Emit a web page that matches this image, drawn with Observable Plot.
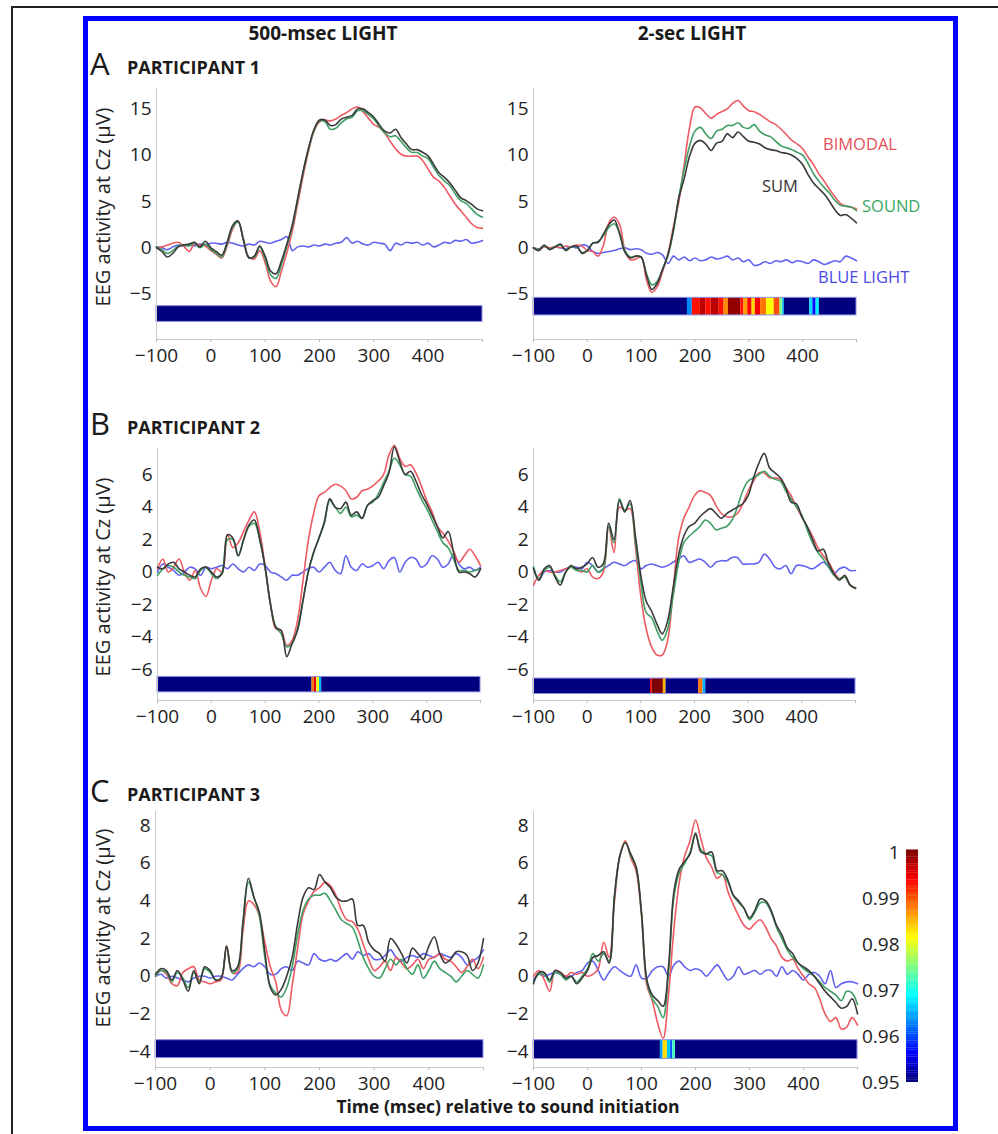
<!DOCTYPE html>
<html><head><meta charset="utf-8">
<script src="https://cdn.jsdelivr.net/npm/d3@7"></script>
<script src="https://cdn.jsdelivr.net/npm/@observablehq/plot@0.6"></script>
<style>
body{margin:0;background:#fff;font-family:"Open Sans",sans-serif;}
#root{position:relative;width:998px;height:1134px;overflow:hidden;background:#fff}
#root svg{position:absolute}
</style></head><body><div id="root"></div>
<script>
// ---------- data ----------
const time = [-100,-90,-80,-70,-60,-50,-40,-30,-20,-10,0,10,20,30,40,50,60,70,80,90,100,110,120,130,140,150,160,170,180,190,200,210,220,230,240,250,260,270,280,290,300,310,320,330,340,350,360,370,380,390,400,410,420,430,440,450,460,470,480,490,500];

const columnTitles = ["500-msec LIGHT", "2-sec LIGHT"];
const rowLetters = ["A", "B", "C"];
const rowTitles = ["PARTICIPANT 1", "PARTICIPANT 2", "PARTICIPANT 3"];
const seriesNames = ["BLUE LIGHT", "BIMODAL", "SOUND", "SUM"];
const seriesColors = ["#6262f0", "#ee5a62", "#3f9f64", "#3a3a3a"];
const xTicks = [-100, 0, 100, 200, 300, 400, 500];
const yTicksA = [-5, 0, 5, 10, 15];
const yTicksB = [-6, -4, -2, 0, 2, 4, 6];
const yTicksC = [-4, -2, 0, 2, 4, 6, 8];
const pTicks = [0.95, 0.96, 0.97, 0.98, 0.99, 1];
const pDomain = [0.95, 0.95625, 0.96875, 0.98125, 0.99375, 1];
const pRange = ["#00007f", "#0000ff", "#00ffff", "#ffff00", "#ff0000", "#7f0000"];

// Participant 1, 500-msec light
const a1_light = [0.1,0.0,-0.2,0.1,0.3,0.2,0.3,0.2,0.4,0.3, 0.5,0.5,0.4,0.6,0.5,0.3,0.2,0.4,0.3,0.7, 0.6,0.5,0.7,0.9,1.2,-0.3,0.1,0.2,0.1,0.3, 0.2,0.4,0.3,0.5,0.6,1.1,0.5,0.7,0.4,0.3, 0.6,0.5,0.4,-0.3,0.5,0.3,0.6,0.5,0.6,0.3, 0.5,0.1,0.3,0.6,0.5,0.8,0.7,0.9,0.5,0.6, 0.8];
const a1_bimodal = [0.0,0.1,0.3,0.5,0.6,0.2,-0.4,0.4,0.3,0.2, -0.3,-0.7,-1.1,0.2,2.0,2.9,1.0,-1.0,-1.2,-0.3, -1.6,-3.6,-4.2,-2.5,-0.5,1.8,4.8,7.8,10.5,12.6, 13.6,13.8,13.7,13.9,14.3,14.6,15.0,15.2,14.7,14.0, 13.3,13.0,12.4,11.5,10.7,10.1,9.9,9.9,9.9,9.4, 8.5,7.6,7.2,6.5,5.6,4.7,4.0,3.3,2.6,2.2, 2.1];
const a1_sound = [0.1,-0.2,-0.6,-0.3,0.2,0.3,0.2,0.5,0.0,0.4, -0.2,-0.6,-1.0,0.4,2.2,2.8,0.9,-1.0,-1.0,0.1, -1.2,-2.9,-3.3,-1.8,0.2,2.3,5.2,8.2,10.7,12.7, 13.7,13.6,12.8,12.9,13.5,13.9,14.1,14.8,14.8,14.4, 13.9,13.1,12.4,12.0,12.1,11.5,10.8,10.3,10.3,9.9, 9.6,8.7,7.8,7.2,6.7,5.8,5.1,4.8,4.2,3.6, 3.3];
const a1_sum = [0.0,-0.4,-1.0,-0.6,0.1,0.3,0.4,0.6,0.1,0.7, 0.0,-0.4,-0.8,0.6,2.4,2.9,0.8,-1.1,-0.9,0.2, -0.9,-2.5,-2.8,-1.4,0.4,2.5,5.4,8.3,10.8,12.8, 13.8,13.8,13.2,13.3,13.9,14.1,14.3,15.0,15.0,14.6, 14.1,13.3,12.6,12.4,12.8,11.9,11.2,10.6,10.6,10.3, 9.9,9.0,8.1,7.6,7.0,6.2,5.4,5.1,4.7,4.2, 4.0];
const a1_sig = [[-100, 500, 0.95]];

// Participant 1, 2-sec light
const a2_light = [0.0,-0.1,0.2,-0.1,0.1,0.0,-0.1,0.1,0.0,0.3, 0.2,-0.4,-0.6,-0.5,-0.4,-0.3,-0.1,0.0,-0.2,-0.1, -0.2,-0.6,-0.7,-0.5,-0.8,-1.7,-0.9,-1.3,-1.0,-1.4, -1.1,-1.4,-1.3,-1.0,-1.2,-1.1,-0.9,-1.3,-1.1,-1.5, -1.3,-1.9,-1.8,-1.5,-1.7,-1.4,-1.5,-1.3,-1.6,-1.4, -1.5,-1.7,-1.3,-1.5,-1.8,-1.6,-1.4,-1.5,-0.9,-1.1, -1.4];
const a2_bimodal = [0.0,-0.2,0.1,0.0,0.1,0.0,0.2,0.1,0.3,0.2, -0.3,-0.4,-0.9,0.3,2.7,3.3,2.5,-0.3,-1.3,-1.2, -1.0,-3.5,-4.8,-4.2,-2.5,-0.6,2.3,5.0,9.0,13.0, 15.2,15.1,14.5,14.0,14.4,14.7,15.0,15.6,15.9,15.3, 14.8,14.7,14.4,14.0,13.6,13.3,12.8,12.2,11.6,11.2, 10.7,9.8,9.0,8.0,7.2,6.3,5.5,4.8,4.5,4.4, 4.2];
const a2_sound = [0.0,-0.2,0.2,-0.1,0.1,0.3,-0.2,0.1,0.1,-0.5, -0.3,0.5,0.7,1.3,2.2,2.6,1.6,-0.3,-1.0,-0.9, -1.0,-2.8,-4.0,-3.6,-2.3,-0.8,1.8,5.5,8.5,11.0, 12.6,13.0,12.3,11.8,12.6,12.8,13.2,13.2,13.5,13.0, 12.9,13.3,12.6,12.2,12.0,11.5,11.0,10.8,10.6,10.3, 10.0,9.1,8.0,7.2,6.5,5.9,5.1,4.6,4.5,4.4, 4.0];
const a2_sum = [0.0,-0.3,0.3,-0.2,0.1,0.4,-0.3,0.1,0.2,-0.6, -0.3,0.5,0.6,1.5,2.5,3.0,1.5,-0.5,-1.1,-0.9, -1.0,-3.0,-4.5,-3.8,-2.3,-0.7,2.0,5.4,7.5,9.9, 11.3,11.6,11.2,10.5,11.3,11.5,12.3,11.9,12.5,12.0, 11.5,11.4,11.2,10.8,10.6,10.5,10.3,10.2,10.0,9.6, 9.0,7.9,7.0,6.4,5.8,5.0,4.1,3.5,3.6,3.2, 2.7];
const a2_sig = [[-100,186,0.95],[186,195,0.963],[195,210,0.993],[210,220,0.997],[220,230,0.993],[230,245,0.997],[245,254,0.993],[254,262,0.987],[262,285,0.999],[285,291,0.993],[291,298,0.986],[298,306,0.994],[306,312,0.983],[312,322,0.994],[322,333,0.988],[333,347,0.981],[347,358,0.99],[358,363,0.975],[363,366,0.965],[366,413,0.95],[413,419,0.967],[419,425,0.957],[425,431,0.968],[431,500,0.95]];

// Participant 2, 500-msec light
const b1_light = [0.0,0.5,0.3,0.1,-0.2,0.0,0.3,0.2,-0.2,0.3, 0.2,0.3,0.4,0.2,0.5,0.2,0.0,0.3,0.1,0.5, 0.4,0.0,-0.1,-0.3,-0.5,-0.2,-0.2,0.0,0.2,0.3, 0.0,0.3,0.6,0.1,-0.1,1.0,0.3,0.1,0.5,0.3, 0.4,0.6,0.2,0.7,0.9,0.0,0.6,0.9,0.8,0.3, 0.5,1.0,0.8,0.3,0.5,1.1,0.5,0.2,0.3,0.1, 0.3];
const b1_bimodal = [0.2,0.8,0.0,0.3,0.8,0.0,-0.5,0.1,-1.0,-1.5, -0.5,0.2,0.0,2.3,1.5,1.8,2.5,3.2,3.7,2.5, 0.3,-2.0,-3.5,-3.6,-4.5,-4.2,-3.0,-0.6,1.9,3.6, 4.7,4.9,5.2,5.4,5.3,5.0,4.5,4.6,5.0,5.1, 5.3,5.6,6.0,7.2,7.8,7.0,6.5,6.6,6.1,5.3, 4.4,3.7,2.8,2.4,1.9,1.3,0.6,1.0,1.4,1.0, 0.4];
const b1_sound = [-0.2,0.2,0.4,0.3,0.0,-0.2,-0.3,-0.4,0.1,0.3, -0.1,-0.4,0.0,2.0,2.0,1.0,2.0,2.8,3.0,2.0, 0.2,-2.0,-3.4,-3.8,-4.6,-4.4,-3.5,-1.8,0.0,1.2, 2.1,3.0,4.4,4.0,3.6,4.0,3.4,3.5,3.3,4.1, 4.3,4.8,5.5,6.2,7.0,6.6,6.0,5.9,5.2,4.5, 3.9,3.2,2.5,1.8,1.5,0.8,0.1,0.1,0.0,0.1, 0.2];
const b1_sum = [0.3,0.2,0.5,0.6,0.2,0.0,-0.2,-0.3,0.2,0.3, 0.0,-0.3,-0.1,2.3,2.1,1.0,2.0,2.9,3.2,2.0, 0.3,-2.0,-3.4,-3.6,-5.2,-4.4,-3.6,-1.8,0.0,1.2, 2.1,3.1,4.5,4.0,3.9,4.3,3.5,3.7,3.3,4.1, 4.4,4.6,5.3,6.1,7.7,6.8,6.0,6.2,5.6,4.8, 4.2,3.5,2.8,2.1,2.5,1.2,0.0,0.0,-0.1,-0.3, 0.2];
const b1_sig = [[-100,187,0.95],[187,191,0.988],[191,196,0.995],[196,201,0.98],[201,205,0.965],[205,500,0.95]];

// Participant 2, 2-sec light
const b2_light = [0.3,-0.5,0.0,0.1,0.0,0.0,0.2,0.3,0.3,0.2, 0.6,0.4,0.0,0.2,0.4,0.6,0.5,0.4,0.6,0.7, 0.2,0.4,0.5,0.4,0.3,0.4,0.6,0.8,1.0,0.6, 0.7,0.8,0.6,0.3,0.6,0.7,0.7,0.9,0.9,0.5, 0.5,0.5,0.6,1.1,0.8,0.3,0.2,0.4,-0.1,0.4, 0.4,0.3,0.2,0.4,0.6,0.3,-0.1,0.2,0.3,0.1, 0.1];
const b2_bimodal = [-0.8,-0.2,0.1,0.0,0.0,0.1,0.2,0.3,0.2,0.0, 0.2,-0.3,-0.4,0.0,2.8,1.2,4.0,3.8,3.9,1.5, -1.5,-3.5,-4.6,-5.1,-5.1,-4.2,-1.2,2.0,3.3,4.0, 4.7,5.0,4.9,4.7,4.1,3.6,3.4,3.4,3.6,4.2, 5.0,5.6,6.1,6.1,5.8,5.8,5.7,5.2,4.7,4.0, 3.4,2.8,2.2,1.5,1.0,0.6,0.0,-0.4,-0.3,-0.8, -1.0];
const b2_sound = [0.3,-0.4,0.1,0.3,-0.2,-0.6,0.0,0.3,0.1,0.1, 0.0,0.4,0.0,0.2,2.8,1.8,4.5,3.8,4.2,1.8, -0.6,-2.5,-2.8,-3.6,-4.2,-3.5,-1.5,0.5,1.8,2.2, 2.5,2.8,3.2,3.0,2.6,2.7,2.8,3.2,4.0,5.0, 5.6,5.8,6.0,6.2,5.9,5.7,5.6,5.0,4.5,4.0, 3.5,2.6,1.8,1.2,0.8,0.3,-0.2,-0.4,-0.3,-0.8, -1.0];
const b2_sum = [0.2,-0.5,0.2,0.4,-0.3,-0.8,0.0,0.4,0.2,0.3, 0.5,0.9,0.3,0.5,3.0,2.0,4.4,3.7,4.4,2.2, -0.2,-1.8,-2.4,-3.2,-3.8,-3.0,-1.0,1.0,2.2,2.8, 3.0,3.4,3.7,3.9,3.6,3.3,3.6,3.8,4.0,4.2, 4.7,5.8,6.7,7.3,6.4,6.1,5.8,5.2,4.3,4.2, 3.4,2.8,2.0,1.3,1.4,0.5,-0.1,-0.5,-0.2,-0.8, -1.0];
const b2_sig = [[-100,118,0.95],[118,121,0.994],[121,142,1.0],[142,147,0.985],[147,208,0.95],[208,216,0.988],[216,221,0.965],[221,500,0.95]];

// Participant 3, 500-msec light
const c1_light = [0.0,0.1,-0.1,0.0,-0.1,-0.2,-0.3,-0.1,0.0,0.0, -0.1,0.0,0.0,-0.1,-0.2,0.1,0.4,0.6,0.5,0.7, 0.5,0.1,0.1,0.4,0.5,0.3,0.8,0.7,0.6,1.2, 0.9,0.8,0.9,0.8,1.0,1.2,0.9,1.3,1.1,1.2, 0.9,0.9,1.1,1.4,1.0,0.8,1.0,1.1,1.0,1.2, 1.1,1.0,1.2,1.1,1.0,1.2,1.0,0.6,0.8,1.0, 1.4];
const c1_bimodal = [0.0,0.3,0.1,-0.4,-0.5,0.2,0.4,0.5,-0.2,-0.3, -0.4,-0.3,-0.2,1.6,0.2,0.2,2.4,4.0,3.8,3.2, 1.8,0.5,-0.3,-1.8,-2.1,-0.5,1.5,3.3,4.0,4.5, 4.7,5.0,4.8,4.3,3.5,3.0,2.9,2.5,1.7,0.9, 0.3,0.5,0.8,0.3,1.0,0.7,0.4,0.6,0.9,0.4, 0.9,1.0,1.2,0.9,0.8,0.5,0.2,0.5,0.9,0.4, 1.0];
const c1_sound = [0.0,0.3,0.2,-0.3,0.2,-0.1,-0.6,0.2,-0.3,0.4, 0.2,-0.2,-0.1,1.5,0.2,0.4,2.8,5.0,4.2,3.2, 1.0,-0.5,-0.9,-1.1,-0.6,0.5,2.2,3.5,4.1,4.3, 4.3,4.4,4.0,3.5,3.0,2.8,2.6,1.9,1.0,0.4, 0.0,-0.1,0.4,0.9,0.6,0.9,0.4,0.1,0.6,-0.1, 0.3,0.8,0.4,0.2,0.0,-0.3,0.0,0.3,0.1,-0.1, 0.6];
const c1_sum = [0.1,0.4,0.3,-0.2,0.3,-0.2,-0.8,0.3,-0.4,0.5, 0.3,-0.2,-0.1,1.6,0.3,0.5,2.9,5.2,4.2,3.4, 1.3,-0.6,-1.0,-0.7,0.0,1.0,2.8,4.2,4.7,4.6, 5.4,5.0,4.7,4.2,4.0,4.0,4.1,2.7,2.7,1.8, 1.4,1.2,0.8,2.0,1.7,1.2,0.7,1.5,1.2,0.9, 1.6,2.1,1.2,0.7,0.9,1.3,1.3,1.1,0.3,0.7, 2.0];
const c1_sig = [[-100, 500, 0.95]];

// Participant 3, 2-sec light
const c2_light = [-0.2,0.1,0.0,0.1,0.2,0.1,0.0,0.0,0.2,0.3, 0.7,0.8,0.3,-0.2,0.2,0.5,0.3,0.1,0.0,0.6, -0.1,-0.1,0.3,0.5,0.5,0.0,0.6,0.8,0.5,0.3, 0.4,0.3,0.0,0.3,0.6,0.2,-0.2,0.0,0.5,0.1, 0.2,0.3,0.1,0.3,0.3,0.0,0.5,0.1,0.3,0.1, -0.2,0.1,0.2,0.0,-0.4,0.3,-0.6,-0.4,-0.3,-0.3, -0.4];
const c2_bimodal = [0.0,0.3,-0.2,-0.8,0.3,0.2,0.0,0.2,0.1,0.2, 0.0,0.1,0.4,1.8,1.0,4.0,6.4,7.2,6.3,5.6, 3.2,-0.5,-1.3,-2.5,-3.3,-1.0,2.5,5.0,6.4,7.2, 8.3,7.3,6.3,5.8,5.2,5.4,4.5,3.8,3.2,2.7, 2.5,2.8,3.0,2.6,2.0,1.6,1.0,0.8,0.9,0.4, 0.0,-0.4,-0.6,-1.2,-2.0,-2.4,-2.2,-2.8,-2.7,-2.2, -2.6];
const c2_sound = [-0.3,0.1,0.1,-0.3,0.2,0.1,-0.2,0.0,-0.3,0.0, 0.4,1.2,0.8,1.2,0.8,4.2,6.4,7.1,6.4,5.8, 3.3,-0.3,-1.2,-1.6,-2.2,0.2,4.2,5.5,6.0,6.6, 7.5,6.7,6.5,6.4,5.5,5.4,5.0,4.3,3.9,3.6, 3.0,3.4,3.9,3.9,3.4,2.6,2.0,1.4,1.0,0.7, 0.4,0.2,0.0,-0.3,-0.6,-0.8,-1.0,-1.3,-0.8,-0.9, -1.5];
const c2_sum = [-0.4,0.2,0.2,-0.2,0.3,0.2,-0.1,0.0,-0.4,-0.1, 0.3,1.0,1.1,1.3,0.7,4.3,6.4,7.1,6.5,5.8, 3.4,-0.2,-1.0,-1.3,-1.6,0.5,4.5,5.7,6.1,6.5, 7.6,6.6,6.5,6.6,5.6,5.6,5.1,4.3,4.0,3.6, 3.1,3.5,4.1,4.0,3.5,2.7,2.2,1.5,1.2,0.7, 0.5,0.3,0.0,-0.4,-0.8,-1.1,-1.4,-1.7,-1.6,-1.2, -2.0];
const c2_sig = [[-100,135,0.95],[135,140,0.964],[140,148,0.983],[148,154,0.966],[154,158,0.96],[158,163,0.972],[163,500,0.95]];

// ---------- layout ----------
const FONT = '"Open Sans", "DejaVu Sans", sans-serif';
const root = d3.select("#root");
const minus = d => d < 0 ? "\u2212" + Math.abs(d) : String(d);

// frames + static text
const ov = root.append("svg").attr("width", 998).attr("height", 1134).style("left", "0px").style("top", "0px")
  .style("font-family", FONT);
ov.append("rect").attr("x", 12).attr("y", 7).attr("width", 1200).attr("height", 1300)
  .attr("fill", "none").attr("stroke", "#222").attr("stroke-width", 2);
ov.append("rect").attr("x", 85.5).attr("y", 18.5).attr("width", 870).attr("height", 1110)
  .attr("fill", "none").attr("stroke", "#0000ff").attr("stroke-width", 5);

function txt(s, x, y, o = {}) {
  const t = ov.append("text").attr("x", x).attr("y", y).text(s)
    .attr("font-size", o.size || 19).attr("font-weight", o.weight || 400)
    .attr("fill", o.fill || "#222").attr("text-anchor", o.anchor || "start");
  if (o.rotate) t.attr("transform", `rotate(-90 ${x} ${y})`);
  return t;
}
txt(columnTitles[0], 323, 40, {size: 19, weight: 700, anchor: "middle", fill: "#1a1a1a"});
txt(columnTitles[1], 692, 40, {size: 19, weight: 700, anchor: "middle", fill: "#1a1a1a"});
const rowBase = [75, 435, 802];
rowLetters.forEach((L, i) => {
  txt(L, 90, rowBase[i], {size: 31, weight: 400, fill: "#1a1a1a"});
  txt(rowTitles[i], 127, rowBase[i] - 1.5, {size: 18, weight: 700, fill: "#1a1a1a"});
});
[207, 577, 928].forEach(cy => txt("EEG activity at Cz (\u03bcV)", 110, cy, {size: 20, anchor: "middle", rotate: true}));
txt("Time (msec) relative to sound initiation", 508, 1113, {size: 17.5, weight: 700, anchor: "middle", fill: "#1a1a1a"});
// series labels in panel A (2-sec)
txt(seriesNames[1], 823, 150, {size: 16.5, fill: "#e5505a"});
txt(seriesNames[3], 762, 191.5, {size: 16.5, fill: "#333"});
txt(seriesNames[2], 862, 211.5, {size: 16.5, fill: "#3aa864"});
txt(seriesNames[0], 818, 283, {size: 16.5, fill: "#4a4ae6"});

// ---------- panels ----------
const panels = [
  {series: [a1_light, a1_bimodal, a1_sound, a1_sum], sig: a1_sig, bar: [-6.3, -8.0], yDomain: [-9.9, 17.2], yTicks: yTicksA, left: 96, top: 78, w: 400, h: 300, mL: 60, mR: 14, mT: 10, mB: 39},
  {series: [a2_light, a2_bimodal, a2_sound, a2_sum], sig: a2_sig, bar: [-5.4, -7.3], yDomain: [-9.9, 17.2], yTicks: yTicksA, left: 473, top: 78, w: 400, h: 300, mL: 60, mR: 17, mT: 10, mB: 39},
  {series: [b1_light, b1_bimodal, b1_sound, b1_sum], sig: b1_sig, bar: [-6.45, -7.4], yDomain: [-7.9, 7.6], yTicks: yTicksB, left: 97, top: 438, w: 400, h: 300, mL: 60, mR: 17, mT: 10, mB: 38},
  {series: [b2_light, b2_bimodal, b2_sound, b2_sum], sig: b2_sig, bar: [-6.55, -7.5], yDomain: [-7.9, 7.6], yTicks: yTicksB, left: 473, top: 438, w: 400, h: 300, mL: 60, mR: 18, mT: 10, mB: 38},
  {series: [c1_light, c1_bimodal, c1_sound, c1_sum], sig: c1_sig, bar: [-3.4, -4.35], yDomain: [-4.85, 8.75], yTicks: yTicksC, left: 95, top: 801, w: 400, h: 305, mL: 60, mR: 12, mT: 10, mB: 39},
  {series: [c2_light, c2_bimodal, c2_sound, c2_sum], sig: c2_sig, bar: [-3.4, -4.4], yDomain: [-4.85, 8.75], yTicks: yTicksC, left: 473, top: 801, w: 400, h: 305, mL: 60, mR: 16, mT: 10, mB: 39}
];

panels.forEach(p => {
  const lines = p.series.map((vals, k) =>
    Plot.line(time.map((t, i) => ({t, v: vals[i]})), {x: "t", y: "v", stroke: seriesColors[k], strokeWidth: 1.6, curve: "catmull-rom"}));
  const svg = Plot.plot({
    width: p.w, height: p.h,
    marginLeft: p.mL, marginRight: p.mR, marginTop: p.mT, marginBottom: p.mB,
    style: {fontFamily: FONT, fontSize: "19px", background: "transparent", overflow: "visible", maxWidth: "none"},
    x: {domain: [-100, 500], label: null},
    y: {domain: p.yDomain, label: null},
    color: {type: "linear", domain: pDomain, range: pRange},
    marks: [
      Plot.rect(p.sig, {x1: d => d[0], x2: d => d[1], y1: () => p.bar[0], y2: () => p.bar[1], fill: d => d[2]}),
      Plot.rect([p.bar], {x1: () => -100, x2: () => 500, y1: d => d[0], y2: d => d[1], fill: "none", stroke: "#8e8ee0", strokeWidth: 1}),
      Plot.ruleX([-100], {stroke: "#c9c9c9"}),
      Plot.ruleY([p.yDomain[0]], {stroke: "#c9c9c9"}),
      ...lines,
      Plot.axisX({ticks: xTicks, tickSize: 3, tickPadding: 6, tickFormat: d => d === 500 ? "" : minus(d), label: null, stroke: "#bbb", fill: "#222"}),
      Plot.axisY({ticks: p.yTicks, tickSize: 0, tickPadding: 5, tickFormat: minus, label: null, fill: "#222"})
    ]
  });
  svg.style.left = p.left + "px";
  svg.style.top = p.top + "px";
  root.node().appendChild(svg);
});

// ---------- colour bar ----------
const stripes = d3.range(0.95, 1, 0.0005);
const cb = Plot.plot({
  width: 80, height: 250, marginLeft: 56, marginRight: 12, marginTop: 10, marginBottom: 10,
  style: {fontFamily: FONT, fontSize: "19px", background: "transparent", overflow: "visible", maxWidth: "none"},
  x: {domain: [0, 1], axis: null},
  y: {domain: [0.95, 1], label: null},
  color: {type: "linear", domain: pDomain, range: pRange},
  marks: [
    Plot.rect(stripes, {x1: () => 0, x2: () => 1, y1: d => d, y2: d => d + 0.00055, fill: d => d}),
    Plot.axisY({ticks: pTicks, tickSize: 0, tickPadding: 7, tickFormat: d => d === 1 ? "1" : d.toFixed(2), label: null, fill: "#222"})
  ]
});
cb.style.left = "850px";
cb.style.top = "842px";
root.node().appendChild(cb);
</script></body></html>
